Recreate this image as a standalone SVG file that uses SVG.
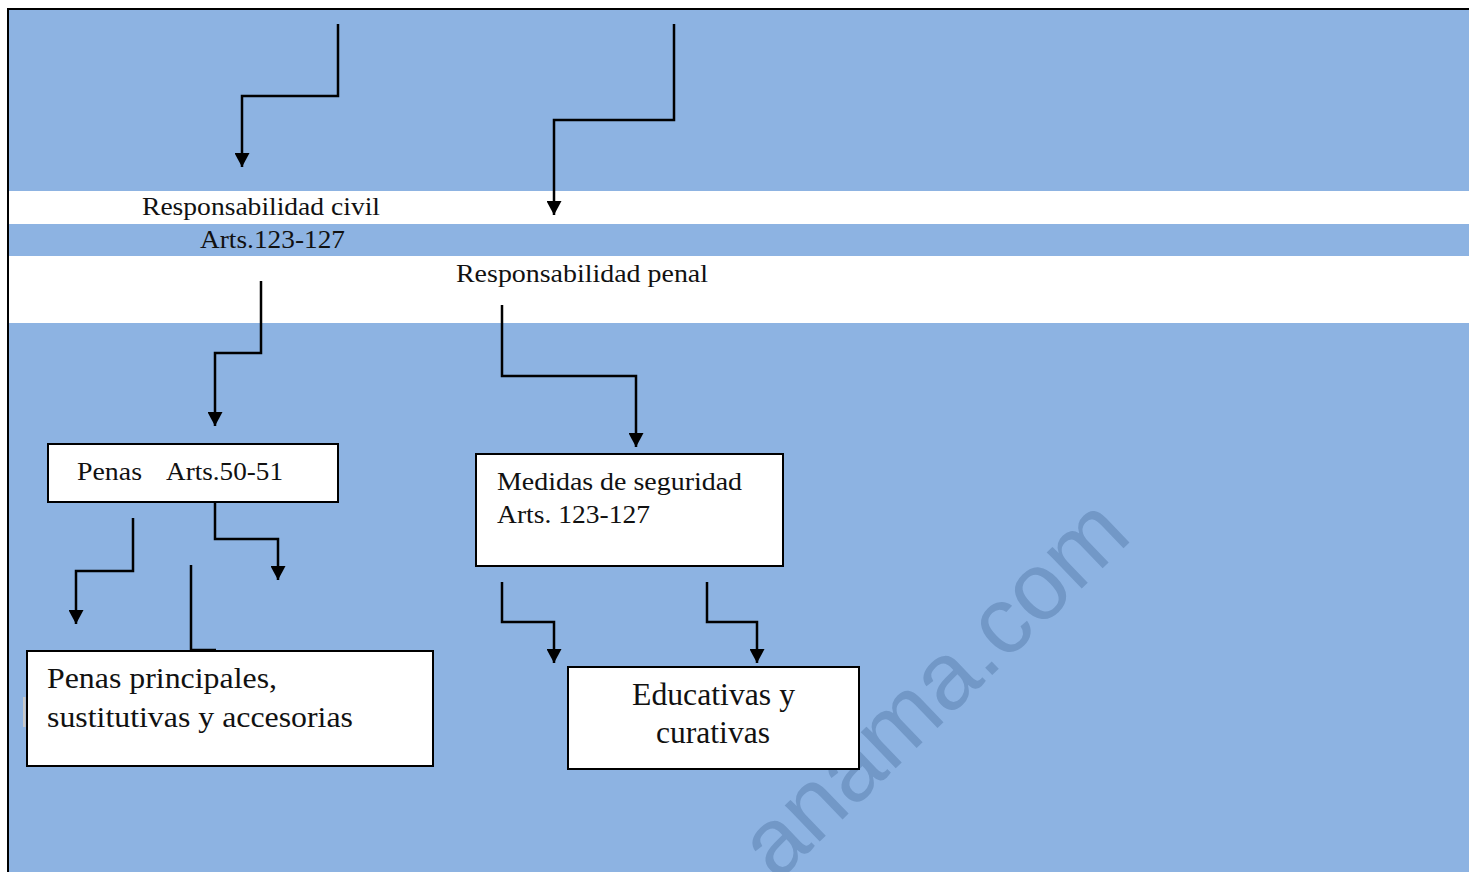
<svg xmlns="http://www.w3.org/2000/svg" width="1469" height="872" viewBox="0 0 1469 872">
<style>
.t{font-family:"Liberation Serif","Times New Roman",serif;fill:#111;}
.box{fill:#fff;stroke:#000;stroke-width:2;}
.c{fill:none;stroke:#000;stroke-width:2.5;}
.wm{font-family:"Liberation Sans",Arial,sans-serif;fill:#7298c7;font-size:95px;}
</style>
<defs>
<marker id="ah" markerUnits="userSpaceOnUse" viewBox="0 0 14 15" refX="14" refY="7.5" markerWidth="14" markerHeight="15" orient="auto">
<path d="M0,0 L14,7.5 L0,15 z" fill="#000"/>
</marker>
</defs>
<rect x="0" y="0" width="1469" height="872" fill="#fff"/>
<rect x="8" y="9" width="1470" height="880" fill="#8db3e2" stroke="#000" stroke-width="2"/>
<rect x="9" y="191" width="1460" height="33" fill="#fff"/>
<rect x="9" y="256" width="1460" height="67" fill="#fff"/>
<rect x="23" y="697" width="2.5" height="30" fill="#c8c8c8"/>
<text class="wm" transform="translate(1134,538) rotate(-44)" text-anchor="end">anama.com</text>

<g id="connectors">
<path class="c" d="M338,24 V96 H242 V167" marker-end="url(#ah)"/>
<path class="c" d="M674,24 V120 H554 V215" marker-end="url(#ah)"/>
<path class="c" d="M261,281 V353 H215 V426" marker-end="url(#ah)"/>
<path class="c" d="M502,305 V376 H636 V447" marker-end="url(#ah)"/>
<path class="c" d="M133,518 V571 H76 V624" marker-end="url(#ah)"/>
<path class="c" d="M191,565 V650 H216"/>
<path class="c" d="M215,502 V539 H278 V580" marker-end="url(#ah)"/>
<path class="c" d="M502,582 V622 H554 V663" marker-end="url(#ah)"/>
<path class="c" d="M707,582 V622 H757 V663" marker-end="url(#ah)"/>
</g>

<g id="resp-civil">
<text class="t" x="142" y="215" font-size="26" textLength="238" lengthAdjust="spacingAndGlyphs">Responsabilidad civil</text>
<text class="t" x="200" y="248" font-size="26" textLength="145" lengthAdjust="spacingAndGlyphs">Arts.123-127</text>
</g>
<g id="resp-penal">
<text class="t" x="456" y="282" font-size="26" textLength="252" lengthAdjust="spacingAndGlyphs">Responsabilidad penal</text>
</g>
<g id="penas">
<rect class="box" x="48" y="444" width="290" height="58"/>
<text class="t" x="77" y="480" font-size="26" textLength="65" lengthAdjust="spacingAndGlyphs">Penas</text>
<text class="t" x="166" y="480" font-size="26" textLength="117" lengthAdjust="spacingAndGlyphs">Arts.50-51</text>
</g>
<g id="medidas">
<rect class="box" x="476" y="454" width="307" height="112"/>
<text class="t" x="497" y="490" font-size="26" textLength="245" lengthAdjust="spacingAndGlyphs">Medidas de seguridad</text>
<text class="t" x="497" y="523" font-size="26" textLength="153" lengthAdjust="spacingAndGlyphs">Arts. 123-127</text>
</g>
<g id="penas-principales">
<rect class="box" x="27" y="651" width="406" height="115"/>
<text class="t" x="47" y="688" font-size="30" textLength="230" lengthAdjust="spacingAndGlyphs">Penas principales,</text>
<text class="t" x="47" y="727" font-size="30" textLength="306" lengthAdjust="spacingAndGlyphs">sustitutivas y accesorias</text>
</g>
<g id="educativas">
<rect class="box" x="568" y="667" width="291" height="102"/>
<text class="t" x="632" y="705" font-size="32" textLength="163" lengthAdjust="spacingAndGlyphs">Educativas y</text>
<text class="t" x="656" y="743" font-size="32" textLength="114" lengthAdjust="spacingAndGlyphs">curativas</text>
</g>
</svg>
